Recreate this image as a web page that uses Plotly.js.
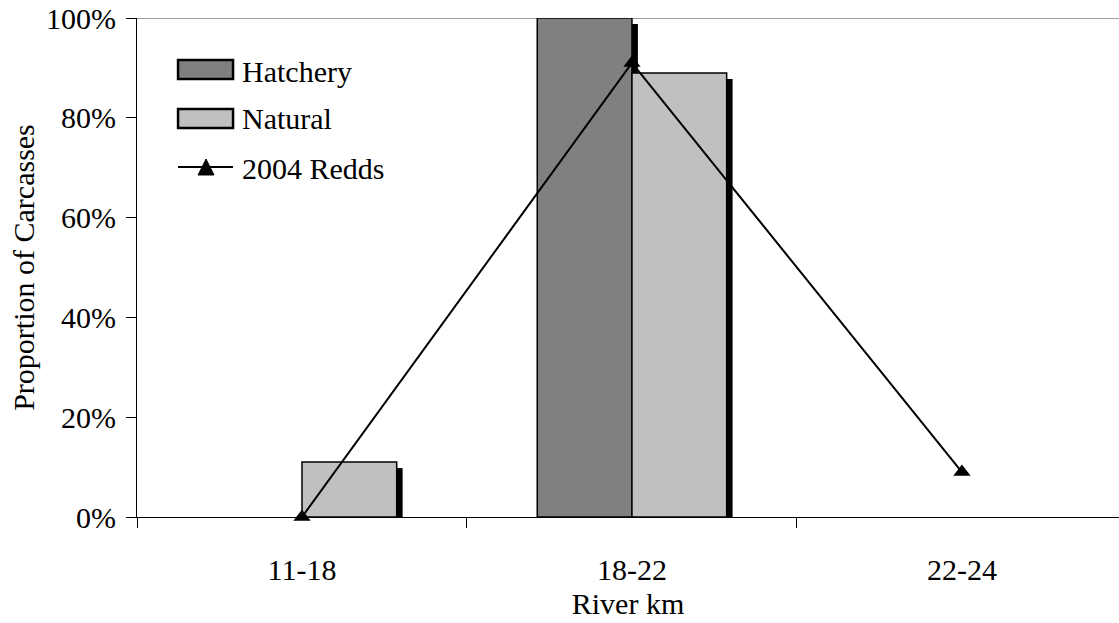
<!DOCTYPE html>
<html>
<head>
<meta charset="utf-8">
<script src="https://cdn.plot.ly/plotly-3.0.1.min.js"></script>
<style>
  html, body { margin: 0; padding: 0; background: #fff; }
  #chart { width: 1119px; height: 623px; }
</style>
</head>
<body>
<div id="chart"></div>
<script>
// River km reaches
const reaches = ['11-18', '18-22', '22-24'];
// Proportion of carcasses by origin
const hatchery = [0, 1.00, 0];
const natural = [0.11, 0.89, 0];
// Proportion of 2004 redds by reach
const redds = [0, 0.91, 0.09];

const seriesNames = ['Hatchery', 'Natural', '2004 Redds'];
const colors = { hatchery: '#808080', natural: '#c0c0c0' };

const FONT = '"Liberation Serif", "Times New Roman", serif';
const FS = 30;

// bar geometry in category units
const barWidth = 0.287;
const shadowW = 0.018;      // drop-shadow strip width
const shadowDrop = 0.012;   // drop-shadow vertical offset

function shadowOf(vals) {
  return vals.map(v => Math.max(0, v - shadowDrop));
}

function barTrace(name, vals, color, offset) {
  return {
    type: 'bar', x: reaches, y: vals, name: name,
    width: barWidth, offset: offset,
    // empty bars get no outline
    marker: { color: color, line: { color: '#000', width: vals.map(v => v > 0 ? 1.5 : 0) } },
    showlegend: false, hoverinfo: 'skip'
  };
}
function shadowTrace(vals, offset) {
  return {
    type: 'bar', x: reaches, y: shadowOf(vals),
    width: shadowW, offset: offset + barWidth,
    marker: { color: '#000', line: { width: 0 } },
    showlegend: false, hoverinfo: 'skip'
  };
}

const traces = [
  shadowTrace(hatchery, -barWidth),
  barTrace(seriesNames[0], hatchery, colors.hatchery, -barWidth),
  shadowTrace(natural, 0),
  barTrace(seriesNames[1], natural, colors.natural, 0),
  {
    type: 'scatter', mode: 'lines+markers', x: reaches, y: redds,
    name: seriesNames[2],
    line: { color: '#000', width: 2 },
    marker: { symbol: 'triangle-up', size: 15, color: '#000' },
    cliponaxis: false, showlegend: false, hoverinfo: 'skip'
  }
];

// hand-built legend (swatches + labels) in paper coordinates
const legendShapes = [
  { type: 'rect', xref: 'paper', yref: 'paper', x0: 0.0418, x1: 0.0978, y0: 0.8778, y1: 0.9158,
    fillcolor: colors.hatchery, line: { color: '#000', width: 2.5 } },
  { type: 'rect', xref: 'paper', yref: 'paper', x0: 0.0418, x1: 0.0978, y0: 0.7796, y1: 0.8176,
    fillcolor: colors.natural, line: { color: '#000', width: 2.5 } },
  { type: 'line', xref: 'paper', yref: 'paper', x0: 0.0418, x1: 0.0978, y0: 0.7014, y1: 0.7014,
    line: { color: '#000', width: 2 } },
  { type: 'path', xref: 'paper', yref: 'paper',
    path: 'M 0.0622,0.6854 L 0.0784,0.6854 L 0.0703,0.7174 Z',
    fillcolor: '#000', line: { color: '#000', width: 1 } }
];
const legendY = [0.8918, 0.7976, 0.6974];
const legendAnn = seriesNames.map((n, i) => ({
  xref: 'paper', yref: 'paper', x: 0.1049, y: legendY[i],
  xanchor: 'left', yanchor: 'middle', showarrow: false,
  text: n, font: { family: FONT, size: FS, color: '#000' }
}));

const layout = {
  width: 1119, height: 623,
  margin: { l: 137, r: 0, t: 18, b: 106 },
  paper_bgcolor: '#fff', plot_bgcolor: '#fff',
  barmode: 'overlay',
  showlegend: false,
  font: { family: FONT, size: FS, color: '#000' },
  xaxis: {
    type: 'category', range: [-0.5, 2.476],
    showline: true, linecolor: '#000', linewidth: 1,
    showgrid: false, zeroline: false,
    ticks: 'outside', tickson: 'boundaries', ticklen: 10, tickcolor: '#000',
    ticklabelstandoff: 26,
    tickfont: { family: FONT, size: FS, color: '#000' },
    title: { text: 'River km', font: { family: FONT, size: FS, color: '#000' }, standoff: 7 }
  },
  yaxis: {
    range: [0, 1], dtick: 0.2, tickformat: '.0%',
    showline: true, linecolor: '#000', linewidth: 1,
    showgrid: false, zeroline: false,
    ticks: 'outside', ticklen: 10, tickcolor: '#000',
    ticklabelstandoff: 4,
    tickfont: { family: FONT, size: FS, color: '#000' },
    title: { text: 'Proportion of Carcasses', font: { family: FONT, size: FS, color: '#000' }, standoff: 2 }
  },
  shapes: [
    // top border of the plot area
    { type: 'line', xref: 'paper', yref: 'y', x0: 0, x1: 1, y0: 1, y1: 1,
      line: { color: '#808080', width: 1.5 }, layer: 'below' }
  ].concat(legendShapes),
  annotations: legendAnn
};

Plotly.newPlot('chart', traces, layout, { displayModeBar: false, staticPlot: true });
</script>
</body>
</html>
